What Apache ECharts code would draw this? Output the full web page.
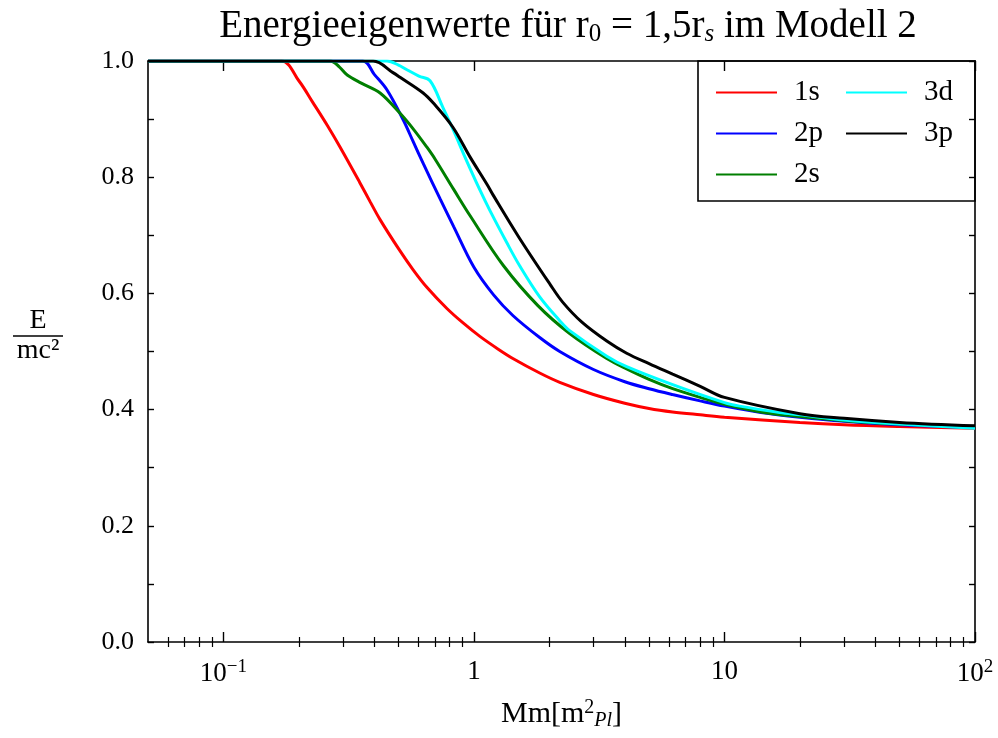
<!DOCTYPE html>
<html>
<head>
<meta charset="utf-8">
<script src="https://cdn.jsdelivr.net/npm/echarts@6/dist/echarts.min.js"></script>
<style>
  html, body { margin: 0; padding: 0; background: #fff; }
  #chart { width: 998px; height: 738px; }
</style>
</head>
<body>
<div id="chart"></div>
<script>
// Energieeigenwerte
const m1s = [0.05, 0.17, 0.2, 0.228, 0.26, 0.292, 0.35, 0.385, 0.422, 0.5, 0.571, 0.65, 0.78, 0.9, 1.056, 1.25, 1.43, 1.83, 2.2, 3, 4, 5, 6.2, 8, 10, 20, 30, 50, 100]
const e1s = [1.0, 1.0, 0.966, 0.928, 0.889, 0.852, 0.791, 0.758, 0.727, 0.677, 0.641, 0.610, 0.574, 0.550, 0.526, 0.504, 0.488, 0.463, 0.447, 0.426, 0.411, 0.402, 0.396, 0.391, 0.387, 0.378, 0.374, 0.371, 0.368]

const m2p = [0.05, 0.36, 0.40, 0.45, 0.523, 0.571, 0.63, 0.732, 0.83, 1.0, 1.2, 1.43, 1.83, 2.2, 3, 4, 5, 6.2, 8, 10, 14, 20, 30, 50, 100]
const e2p = [1.0, 1.0, 0.977, 0.950, 0.898, 0.862, 0.822, 0.763, 0.715, 0.645, 0.597, 0.562, 0.524, 0.500, 0.469, 0.448, 0.436, 0.426, 0.415, 0.406, 0.395, 0.387, 0.380, 0.374, 0.369]

const m2s = [0.05, 0.267, 0.29, 0.312, 0.355, 0.422, 0.507, 0.575, 0.648, 0.70, 0.83, 0.964, 1.31, 1.8, 2.41, 3.39, 4.07, 5, 6.21, 8, 10, 14, 20, 30, 50, 100]
const e2s = [1.0, 1.0, 0.99, 0.976, 0.962, 0.945, 0.910, 0.882, 0.852, 0.831, 0.779, 0.734, 0.648, 0.579, 0.531, 0.488, 0.470, 0.452, 0.436, 0.421, 0.409, 0.396, 0.388, 0.381, 0.375, 0.369]

const m3d = [0.05, 0.45, 0.50, 0.54, 0.603, 0.668, 0.75, 0.828, 0.92, 1.056, 1.16, 1.35, 1.52, 1.83, 2.2, 2.41, 3.39, 4.07, 6.21, 10, 11.5, 16.6, 20, 30, 50, 100]
const e3d = [1.0, 1.0, 0.993, 0.985, 0.974, 0.966, 0.921, 0.881, 0.835, 0.778, 0.742, 0.688, 0.648, 0.594, 0.553, 0.536, 0.492, 0.474, 0.443, 0.412, 0.406, 0.395, 0.391, 0.382, 0.375, 0.368]

const m3p = [0.05, 0.396, 0.475, 0.507, 0.627, 0.687, 0.824, 0.964, 1.13, 1.19, 1.52, 2.01, 2.26, 2.69, 3.39, 4.07, 5, 6.21, 8, 10, 20, 30, 50, 100]
const e3p = [1.0, 1.0, 0.980, 0.972, 0.945, 0.928, 0.886, 0.835, 0.787, 0.770, 0.695, 0.616, 0.585, 0.551, 0.518, 0.497, 0.479, 0.461, 0.440, 0.421, 0.393, 0.385, 0.378, 0.372]

const xMajor = [0.1, 1, 10, 100]
const xMinor = [0.06, 0.07, 0.08, 0.09, 0.2, 0.3, 0.4, 0.5, 0.6, 0.7, 0.8, 0.9,
  2, 3, 4, 5, 6, 7, 8, 9, 20, 30, 40, 50, 60, 70, 80, 90]

const font = 'Liberation Serif'
const zip = (xs, ys) => xs.map((x, i) => [x, ys[i]])

const curves = [
  { name: '1s', color: '#ff0000', data: zip(m1s, e1s) },
  { name: '2p', color: '#0000ff', data: zip(m2p, e2p) },
  { name: '2s', color: '#007f00', data: zip(m2s, e2s) },
  { name: '3d', color: '#00ffff', data: zip(m3d, e3d) },
  { name: '3p', color: '#000000', data: zip(m3p, e3p) }
]

const chart = echarts.init(document.getElementById('chart'), null, { renderer: 'canvas' })

const xBase = {
  type: 'log', logBase: 10, min: 0.05, max: 100,
  splitLine: { show: false }, minorSplitLine: { show: false },
  axisLine: { show: false }
}

const xAxes = [
  Object.assign({}, xBase, {
    position: 'bottom',
    axisLine: { show: true, onZero: false, lineStyle: { color: '#000', width: 1.6 } },
    axisTick: { inside: true, length: 10, customValues: xMajor, lineStyle: { color: '#000', width: 1.4 } },
    axisLabel: {
      customValues: xMajor, margin: 16, color: '#000', fontFamily: font, fontSize: 27,
      formatter: v => {
        const p = Math.round(Math.log10(v))
        if (p === 0) return '1'
        if (p === 1) return '10'
        return '10{sup|' + (p < 0 ? '\u2212' + (-p) : p) + '}'
      },
      rich: { sup: { fontFamily: font, fontSize: 19, color: '#000', padding: [0, 0, 13, 0] } }
    },
    name: 'Mm[m{sup|2}{sub|Pl}]', nameLocation: 'middle', nameGap: 55,
    nameTextStyle: {
      color: '#000', fontFamily: font, fontSize: 30,
      rich: {
        sup: { fontFamily: font, fontSize: 20, color: '#000', padding: [0, 0, 13, 0] },
        sub: { fontFamily: font, fontSize: 20, fontStyle: 'italic', color: '#000', padding: [14, 0, 0, 0] }
      }
    }
  }),
  Object.assign({}, xBase, {
    position: 'bottom',
    axisTick: { inside: true, length: 5, customValues: xMinor, lineStyle: { color: '#000', width: 1.2 } },
    axisLabel: { show: false }
  }),
  Object.assign({}, xBase, {
    position: 'top',
    axisLine: { show: true, onZero: false, lineStyle: { color: '#000', width: 1.6 } },
    axisTick: { inside: true, length: 10, customValues: xMajor, lineStyle: { color: '#000', width: 1.4 } },
    axisLabel: { show: false }
  }),
  Object.assign({}, xBase, {
    position: 'top',
    axisTick: { inside: true, length: 5, customValues: xMinor, lineStyle: { color: '#000', width: 1.2 } },
    axisLabel: { show: false }
  })
]

const yBase = {
  type: 'value', min: 0, max: 1, interval: 0.1,
  splitLine: { show: false },
  axisLine: { show: true, onZero: false, lineStyle: { color: '#000', width: 1.6 } },
  axisTick: { inside: true, length: 6, lineStyle: { color: '#000', width: 1.4 } }
}

const legendBase = {
  orient: 'vertical', top: 78,
  icon: 'rect', itemWidth: 61, itemHeight: 2, itemGap: 12, padding: 0,
  textStyle: { color: '#000', fontFamily: font, fontSize: 29, padding: [0, 0, 0, 12] }
}

chart.setOption({
  animation: false,
  backgroundColor: '#fff',
  title: {
    text: 'Energieeigenwerte für r{sub|0} = 1,5r{subi|s} im Modell 2',
    left: 563, top: 2, textAlign: 'center',
    textStyle: {
      color: '#000', fontFamily: font, fontSize: 39, fontWeight: 'normal',
      rich: {
        sub: { fontFamily: font, fontSize: 25, color: '#000', padding: [15, 0, 0, 0] },
        subi: { fontFamily: font, fontSize: 25, fontStyle: 'italic', color: '#000', padding: [15, 0, 0, 0] }
      }
    }
  },
  grid: { left: 148, right: 23, top: 61, bottom: 96, containLabel: false },
  xAxis: xAxes,
  yAxis: [
    Object.assign({}, yBase, {
      position: 'left',
      axisLabel: {
        color: '#000', fontFamily: font, fontSize: 26, margin: 14,
        formatter: v => (Math.round(v * 10) % 2 === 0 ? v.toFixed(1) : '')
      }
    }),
    Object.assign({}, yBase, { position: 'right', axisLabel: { show: false } })
  ],
  legend: [
    Object.assign({}, legendBase, { data: ['1s', '2p', '2s'], left: 716 }),
    Object.assign({}, legendBase, { data: ['3d', '3p'], left: 846 })
  ],
  graphic: [
    { type: 'rect', shape: { x: 698, y: 61, width: 277, height: 140 },
      style: { fill: 'none', stroke: '#000', lineWidth: 1.6 }, z: 10 },
    { type: 'text', x: 38, y: 321, style: { text: 'E', fill: '#000', font: '28px "Liberation Serif"', textAlign: 'center', textVerticalAlign: 'middle' } },
    { type: 'line', shape: { x1: 13, y1: 336, x2: 63, y2: 336 }, style: { stroke: '#000', lineWidth: 1.3 } },
    { type: 'text', x: 38, y: 351, style: { text: 'mc²', fill: '#000', font: '28px "Liberation Serif"', textAlign: 'center', textVerticalAlign: 'middle' } }
  ],
  series: curves.map(c => ({
    name: c.name,
    type: 'line',
    xAxisIndex: 0,
    yAxisIndex: 0,
    data: c.data,
    symbol: 'none',
    smooth: 0.35,
    color: c.color,
    lineStyle: { color: c.color, width: 3 },
    z: 5
  }))
})
</script>
</body>
</html>
